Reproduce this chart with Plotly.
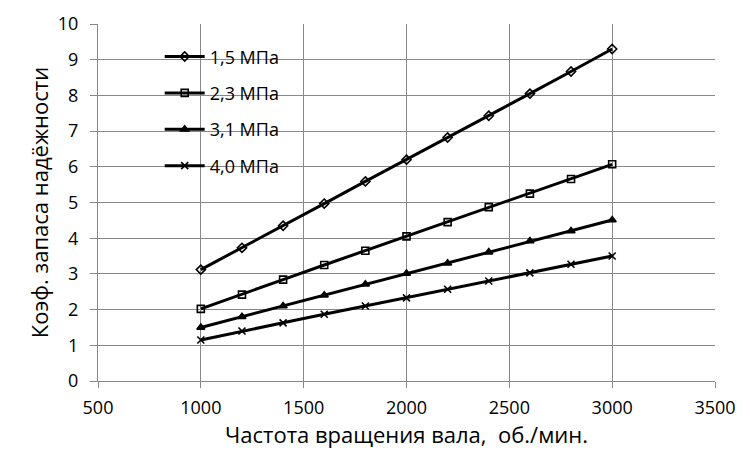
import plotly.graph_objects as go

x = [1000, 1200, 1400, 1600, 1800, 2000, 2200, 2400, 2600, 2800, 3000]
s15 = [3.12, 3.73, 4.35, 4.97, 5.59, 6.20, 6.82, 7.43, 8.05, 8.67, 9.30]
s23 = [2.02, 2.42, 2.84, 3.25, 3.65, 4.05, 4.45, 4.87, 5.25, 5.66, 6.07]
s31 = [1.50, 1.80, 2.10, 2.40, 2.71, 3.01, 3.30, 3.61, 3.92, 4.20, 4.51]
s40 = [1.15, 1.40, 1.63, 1.87, 2.10, 2.33, 2.57, 2.80, 3.03, 3.27, 3.50]
names = ["1,5 МПа", "2,3 МПа", "3,1 МПа", "4,0 МПа"]
symbols = ["diamond-open", "square-open", "triangle-up", "x-thin-open"]

fig = go.Figure()
for i, (name, ys, sym) in enumerate(zip(names, [s15, s23, s31, s40], symbols)):
    fig.add_trace(go.Scatter(
        x=x, y=ys, name=name, mode="lines+markers", legendgroup=f"g{i}",
        line=dict(color="black", width=3),
        marker=dict(symbol=sym, size=7,
                    color="black", line=dict(color="black", width=1.6)),
    ))

fig.update_layout(
    width=750, height=450,
    margin=dict(l=98, r=35, t=24, b=69),
    plot_bgcolor="white", paper_bgcolor="white",
    font=dict(family="Open Sans, sans-serif", color="black", size=18),
    legend=dict(x=0.1, y=0.96, xanchor="left", yanchor="top",
                bgcolor="rgba(0,0,0,0)", font=dict(size=18),
                tracegroupgap=10, itemwidth=40),
)
fig.update_xaxes(range=[500, 3500], dtick=500, tick0=500,
                 showgrid=True, gridcolor="#888888", gridwidth=1,
                 showline=True, linecolor="#888888", mirror=False,
                 ticks="outside", ticklen=6, tickcolor="#888888",
                 zeroline=False, ticklabelstandoff=4,
                 title=dict(text="Частота вращения вала,  об./мин.", font=dict(size=22), standoff=2),
                 tickfont=dict(size=18))
fig.update_yaxes(range=[0, 10], dtick=1,
                 showgrid=True, gridcolor="#888888", gridwidth=1,
                 showline=True, linecolor="#888888",
                 ticks="outside", ticklen=7, tickcolor="#888888",
                 zeroline=False, ticklabelstandoff=8,
                 title=dict(text="Коэф. запаса надёжности", font=dict(size=22), standoff=3),
                 tickfont=dict(size=18))

fig.write_html("out.html")
